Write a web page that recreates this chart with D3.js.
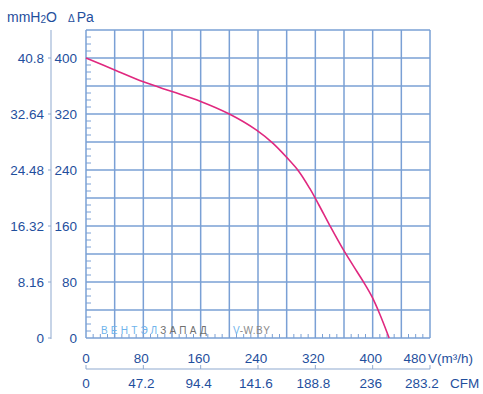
<!DOCTYPE html>
<html><head><meta charset="utf-8">
<script src="https://cdn.jsdelivr.net/npm/d3@7"></script>
<style>body{margin:0;background:#fff}svg{display:block;font-family:Arial,"Liberation Sans",sans-serif}</style>
</head><body>
<svg id="c" width="483" height="394"></svg>
<script>
const flow = [0,40,80,120,160,200,238,261,280,297,312,325,340,358,378,389,399,410,423];
const pressure = [400,383,366,352,338,320,297,278,258,238,214,190,161,128,95,77,59,34,0];
const paTicks = [0,80,160,240,320,400];
const mmTicks = ["0","8.16","16.32","24.48","32.64","40.8"];
const flowTicks = [0,80,160,240,320,400,480];
const cfmTicks = ["0","47.2","94.4","141.6","188.8","236","283.2"];

const svg = d3.select("#c");
const x = d3.scaleLinear().domain([0,480]).range([86,430]);
const y = d3.scaleLinear().domain([0,440]).range([338,30]);
const grid = "#7aa0d5", txt = "#1f4f9d";

// grid
const g = svg.append("g");
g.selectAll(".v").data(d3.range(0,481,40)).join("line")
  .attr("x1",d=>x(d)).attr("x2",d=>x(d)).attr("y1",y(0)).attr("y2",y(440))
  .attr("stroke",grid).attr("stroke-width",1.5);
g.selectAll(".h").data(d3.range(0,441,40)).join("line")
  .attr("y1",d=>y(d)).attr("y2",d=>y(d)).attr("x1",x(0)).attr("x2",x(480))
  .attr("stroke",grid).attr("stroke-width",1.5);
// minor ticks
g.selectAll(".mt").data(d3.range(0,441,10).filter(d=>d%40)).join("line")
  .attr("y1",d=>y(d)).attr("y2",d=>y(d)).attr("x1",x(0)).attr("x2",x(0)+5)
  .attr("stroke",grid).attr("stroke-width",1);
g.selectAll(".mb").data(d3.range(0,481,10).filter(d=>d%40)).join("line")
  .attr("x1",d=>x(d)).attr("x2",d=>x(d)).attr("y1",y(0)).attr("y2",y(0)-4)
  .attr("stroke",grid).attr("stroke-width",1);

// watermark
const wm = svg.append("text").attr("x",101).attr("y",334).attr("font-size",10).attr("letter-spacing",3.2);
wm.append("tspan").attr("fill","#6fb4ec").text("ВЕНТЭЛ");
wm.append("tspan").attr("fill","#707070").text("ЗАПАД");
const wm2 = svg.append("text").attr("x",233).attr("y",334).attr("font-size",10).attr("letter-spacing",0.5);
wm2.append("tspan").attr("fill","#6fb4ec").text("V");
wm2.append("tspan").attr("fill","#8a8a8a").text("-W.BY");

// curve
svg.append("path").datum(flow.map((f,i)=>[f,pressure[i]]))
  .attr("d",d3.line().x(d=>x(d[0])).y(d=>y(d[1])).curve(d3.curveCatmullRom.alpha(0.5)))
  .attr("fill","none").attr("stroke","#e0287f").attr("stroke-width",1.6);

// Pa labels
svg.selectAll(".pa").data(paTicks).join("text")
  .attr("x",77).attr("y",d=>y(d)+5).attr("text-anchor","end")
  .attr("font-size",13.5).attr("fill",txt).text(d=>d);
// mmH2O axis
svg.append("line").attr("x1",51).attr("x2",51).attr("y1",30).attr("y2",339)
  .attr("stroke","#8fa9cf").attr("stroke-width",1);
svg.selectAll(".mmt").data(paTicks).join("line")
  .attr("x1",48).attr("x2",51).attr("y1",d=>y(d)).attr("y2",d=>y(d))
  .attr("stroke","#8fa9cf").attr("stroke-width",1);
svg.selectAll(".mm").data(paTicks).join("text")
  .attr("x",44).attr("y",d=>y(d)+5).attr("text-anchor","end")
  .attr("font-size",13.5).attr("fill",txt).text((d,i)=>mmTicks[i]);

// titles
const t1 = svg.append("text").attr("x",7).attr("y",22).attr("font-size",14).attr("fill",txt);
t1.append("tspan").text("mmH");
t1.append("tspan").attr("font-size",10).attr("dy",1).text("2");
t1.append("tspan").attr("dy",-1).text("O");
const t2 = svg.append("text").attr("x",68).attr("y",22).attr("fill",txt);
t2.append("tspan").attr("font-size",10).text("Δ");
t2.append("tspan").attr("font-size",14).attr("dx",2).text("Pa");

// flow labels
svg.selectAll(".fl").data(flowTicks).join("text")
  .attr("x",d=>d===480?426:x(d)-(d===0?0:2)).attr("y",363)
  .attr("text-anchor",d=>d===480?"end":"middle")
  .attr("font-size",13.5).attr("fill",txt).text(d=>d);
svg.append("text").attr("x",428).attr("y",363).attr("font-size",13.5).attr("fill",txt).text("V(m³/h)");

// CFM axis
svg.append("line").attr("x1",x(0)).attr("x2",x(480)).attr("y1",369).attr("y2",369)
  .attr("stroke","#8fa9cf").attr("stroke-width",1);
svg.selectAll(".ct").data(flowTicks).join("line")
  .attr("x1",d=>x(d)).attr("x2",d=>x(d)).attr("y1",369).attr("y2",365)
  .attr("stroke","#8fa9cf").attr("stroke-width",1);
svg.selectAll(".cl").data(flowTicks).join("text")
  .attr("x",d=>d===480?x(d)-8:x(d)-(d===0?0:2)).attr("y",388)
  .attr("text-anchor","middle")
  .attr("font-size",13.5).attr("fill",txt).text((d,i)=>cfmTicks[i]);
svg.append("text").attr("x",450).attr("y",388).attr("font-size",13.5).attr("fill",txt).text("CFM");
</script>
</body></html>
